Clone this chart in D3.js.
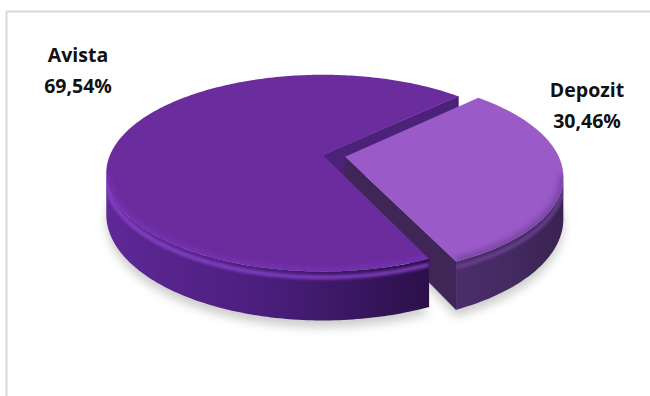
<!DOCTYPE html>
<html>
<head>
<meta charset="utf-8">
<script src="https://cdn.jsdelivr.net/npm/d3@7"></script>
<style>
  body { margin: 0; background: #fff; }
  svg { display: block; font-family: "Open Sans", Lato, sans-serif; }
</style>
</head>
<body>
<div id="chart"></div>
<script>
// ---------- data ----------
const categories = ["Avista", "Depozit"];
const values = [69.54, 30.46];
const valueLabels = ["69,54%", "30,46%"];

// ---------- layout ----------
const WIDTH = 650, HEIGHT = 396;
const CX = 323, CY = 155;        // pie centre (top face)
const RX = 213, RY = 95;         // radii before perspective
const P = 0.184;                 // perspective strength
const DEPTH = 40;                // thickness of the pie
const START = 155.5 * Math.PI / 180;
const EXPLODE = [0, 0.105];
const TS = Math.asin(P);         // silhouette angle of the side wall

const topColor = ["#6b2c9e", "#9a5bc8"];
const sideColor = [["#5f2897", "#4a1e7c", "#2b104a"], ["#4b2d6b", "#432a60", "#3a2252"]];
const faceColor = ["#4b2179", "#3f2657"];
const rimColor = ["#8e45cf", "#6e4596"];
const topRimColor = ["#7a35b6", "#6a3b92"];
const labelPos = [[78, 62], [587, 97]];

const svg = d3.select("#chart").append("svg")
  .attr("width", WIDTH)
  .attr("height", HEIGHT);
const defs = svg.append("defs");

defs.append("filter").attr("id", "shadow")
  .attr("x", "-20%").attr("y", "-20%").attr("width", "140%").attr("height", "140%")
  .append("feGaussianBlur").attr("stdDeviation", 5);
defs.append("filter").attr("id", "soft")
  .attr("x", "-20%").attr("y", "-20%").attr("width", "140%").attr("height", "140%")
  .append("feGaussianBlur").attr("stdDeviation", 1.6);
defs.append("filter").attr("id", "softer")
  .attr("x", "-20%").attr("y", "-20%").attr("width", "140%").attr("height", "140%")
  .append("feGaussianBlur").attr("stdDeviation", 3);

// chart frame (only top and left edges show)
svg.append("path")
  .attr("d", "M6.5,396V11.5H650")
  .attr("fill", "none")
  .attr("stroke", "#d9d9d9")
  .attr("stroke-width", 2);

// ---------- geometry ----------
function proj(u, v, h) {
  const w = 1 / (1 - P * v);
  return [CX + RX * u * w, CY + RY * v * w + DEPTH * h * w];
}

const pie = d3.pie().sort(null).startAngle(START).endAngle(START + 2 * Math.PI);
const slices = pie(values).map((a, i) => {
  const t0 = a.startAngle - Math.PI / 2;
  const t1 = a.endAngle - Math.PI / 2;
  const tm = (t0 + t1) / 2;
  return { i, t0, t1, ou: EXPLODE[i] * Math.cos(tm), ov: EXPLODE[i] * Math.sin(tm) };
});

function pt(s, t, r, h) {
  return proj(s.ou + r * Math.cos(t), s.ov + r * Math.sin(t), h);
}
function arcPts(s, a, b, h) {
  const n = Math.max(2, Math.ceil(Math.abs(b - a) / (Math.PI / 180)));
  return d3.range(n + 1).map(k => pt(s, a + (b - a) * k / n, 1, h));
}
function visibleRanges(s) {
  const out = [];
  for (let k = -1; k <= 1; k++) {
    const a = Math.max(s.t0, TS + 2 * Math.PI * k);
    const b = Math.min(s.t1, Math.PI - TS + 2 * Math.PI * k);
    if (b > a) out.push([a, b]);
  }
  return out;
}
const line = d3.line();

// ---------- shadow ----------
const gShadow = svg.append("g").attr("filter", "url(#shadow)").attr("opacity", 0.55);
slices.forEach(s => {
  gShadow.append("path")
    .attr("d", line([pt(s, 0, 0, 1), ...arcPts(s, s.t0, s.t1, 1)]) + "Z")
    .attr("transform", "translate(0,7)")
    .attr("fill", "#a6a6a6");
});

// ---------- radial cut faces ----------
slices.forEach(s => {
  const ends = [];
  if (Math.cos(s.t1) > 0) ends.push(s.t1);
  if (Math.cos(s.t0) < 0) ends.push(s.t0);
  ends.forEach(t => {
    svg.append("path")
      .attr("d", line([pt(s, t, 0, 0), pt(s, t, 1, 0), pt(s, t, 1, 1), pt(s, t, 0, 1)]) + "Z")
      .attr("fill", faceColor[s.i])
      .attr("stroke", faceColor[s.i])
      .attr("stroke-width", 0.5);
  });
});

// ---------- outer side walls ----------
slices.forEach(s => {
  visibleRanges(s).forEach(([a, b], j) => {
    const pa = pt(s, a, 1, 0), pb = pt(s, b, 1, 0);
    const id = `side${s.i}_${j}`;
    const grad = defs.append("linearGradient").attr("id", id)
      .attr("gradientUnits", "userSpaceOnUse")
      .attr("x1", Math.min(pa[0], pb[0])).attr("x2", Math.max(pa[0], pb[0]))
      .attr("y1", 0).attr("y2", 0);
    sideColor[s.i].forEach((c, k, arr) => {
      grad.append("stop").attr("offset", k / (arr.length - 1)).attr("stop-color", c);
    });
    const wall = line([...arcPts(s, a, b, 0), ...arcPts(s, b, a, 1)]) + "Z";
    svg.append("path")
      .attr("d", wall)
      .attr("fill", `url(#${id})`);

    // soft bevel highlight just below the rim
    const clipId = `clip${s.i}_${j}`;
    defs.append("clipPath").attr("id", clipId)
      .append("path")
      .attr("d", wall);
    svg.append("g").attr("clip-path", `url(#${clipId})`)
      .append("path")
      .attr("d", line(arcPts(s, a, b, 0.12)))
      .attr("fill", "none")
      .attr("stroke", rimColor[s.i])
      .attr("stroke-width", 4)
      .attr("opacity", 0.85)
      .attr("filter", "url(#soft)");
  });
});

// ---------- top faces ----------
slices.forEach(s => {
  const top = line([pt(s, 0, 0, 0), ...arcPts(s, s.t0, s.t1, 0)]) + "Z";
  svg.append("path")
    .attr("d", top)
    .attr("fill", topColor[s.i]);

  // rounded edge shading along the front rim of the top face
  const clipId = `topclip${s.i}`;
  defs.append("clipPath").attr("id", clipId).append("path").attr("d", top);
  const g = svg.append("g").attr("clip-path", `url(#${clipId})`);
  visibleRanges(s).forEach(([a, b]) => {
    g.append("path")
      .attr("d", line(arcPts(s, a, b, 0)))
      .attr("fill", "none")
      .attr("stroke", topRimColor[s.i])
      .attr("stroke-width", 7)
      .attr("opacity", 0.8)
      .attr("filter", "url(#softer)");
  });
});

// ---------- labels ----------
const gLabels = svg.append("g")
  .attr("font-weight", 700)
  .attr("font-size", 19.5)
  .attr("fill", "#111")
  .attr("text-anchor", "middle");
categories.forEach((c, i) => {
  const t = gLabels.append("text")
    .attr("x", labelPos[i][0])
    .attr("y", labelPos[i][1]);
  t.append("tspan").attr("x", labelPos[i][0]).text(c);
  t.append("tspan").attr("x", labelPos[i][0]).attr("dy", 31).text(valueLabels[i]);
});
</script>
</body>
</html>
